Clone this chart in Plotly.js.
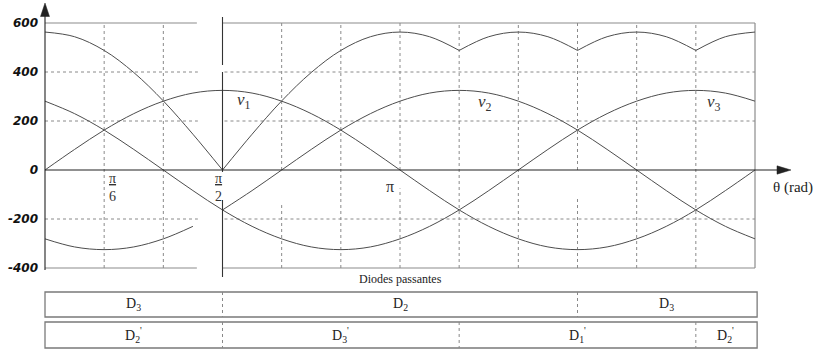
<!DOCTYPE html>
<html><head><meta charset="utf-8">
<script src="https://cdn.plot.ly/plotly-3.0.1.min.js"></script>
<style>html,body{margin:0;padding:0;background:#fff}#chart{width:815px;height:349px}</style>
</head><body><div id="chart"></div>
<script>
// ---- data (angle in degrees, voltages in V) ----
const thetaDeg = [0,15,30,45,60,75,90,105,120,135,150,165,180,195,210,225,240,255,270,285,300,315,330,345,360];
const v1 = [0,84,163,230,281,314,325,314,281,230,163,84,0,-84,-163,-230,-281,-314,-325,-314,-281,-230,-163,-84,0];
const v2 = [-281,-314,-325,-314,-281,-230,-163,-84,0,84,163,230,281,314,325,314,281,230,163,84,0,-84,-163,-230,-281];
const v3 = [281,230,163,84,0,-84,-163,-230,-281,-314,-325,-314,-281,-230,-163,-84,0,84,163,230,281,314,325,314,281];
const uc = [563,544,488,398,282,146,0,146,282,398,488,544,563,544,488,544,563,544,488,544,563,544,488,544,563];
const ucSegments = [[0,6],[6,14],[14,18],[18,22],[22,24]];   // index ranges between cusps
const v2Segments = [[0,5],[6,24]];                          // v2 is interrupted before pi/2
const yTickVals = [600,400,200,0,-200,-400];
const yTickText = ['600','400','200','0','-200','-400'];
const gridDeg = [30,60,120,150,180,210,240,270,300,330];
const gridY = [400,200,-200];
const curveNames = ['1','2','3'];
const curveLabelDeg = [101,223,339];
const curveLabelVal = [282,273,273];
const xFracDeg = [30,90];
const xFracDen = ['6','2'];
const topDiodeBounds = [0,90,270,360];
const topDiodeSub = ['3','2','3'];
const botDiodeBounds = [0,90,210,330,360];
const botDiodeSub = ['2','3','1','2'];

// ---- styles ----
const curveColor = '#4d4d4d';
const gridColor = '#8a8a8a';
const frameColor = '#8c8c8c';
const axisColor = '#222';
const serif = 'Liberation Serif, Times New Roman, serif';

const traces = [];
function seg(arr, a, b){ return arr.slice(a, b+1); }
[v1, v3].forEach(v => traces.push({x: thetaDeg, y: v, mode:'lines', line:{shape:'spline', color:curveColor, width:1}, hoverinfo:'skip'}));
v2Segments.forEach(([a,b]) => traces.push({x: seg(thetaDeg,a,b), y: seg(v2,a,b), mode:'lines', line:{shape:'spline', color:curveColor, width:1}, hoverinfo:'skip'}));
ucSegments.forEach(([a,b]) => traces.push({x: seg(thetaDeg,a,b), y: seg(uc,a,b), mode:'lines', line:{shape:'spline', color:curveColor, width:1}, hoverinfo:'skip'}));

const shapes = [];
const gapL = 77.5, gapR = 91;   // white gap in the grid before pi/2
gridY.forEach(y => {
  shapes.push({type:'line', xref:'x', yref:'y', x0:0, x1:gapL, y0:y, y1:y, line:{color:gridColor, width:1, dash:'dot'}, layer:'below'});
  shapes.push({type:'line', xref:'x', yref:'y', x0:gapR, x1:360, y0:y, y1:y, line:{color:gridColor, width:1, dash:'dot'}, layer:'below'});
});
const vGaps = {120:[[0,600],[-400,-143]], 180:[[0,600],[-102,-75],[-400,-110]], 270:[[0,600],[-400,-110]]};
gridDeg.forEach(d => {
  const segs = vGaps[d] || [[-400,600]];
  segs.forEach(([a,b]) => shapes.push({type:'line', xref:'x', yref:'y', x0:d, x1:d, y0:a, y1:b, line:{color:gridColor, width:1, dash:'dot'}, layer:'below'}));
});
[1, 0].forEach(py => {
  shapes.push({type:'line', xref:'x', yref:'paper', x0:0, x1:gapL-0.5, y0:py, y1:py, line:{color:frameColor, width:1.2}, layer:'below'});
  shapes.push({type:'line', xref:'x', yref:'paper', x0:90, x1:360, y0:py, y1:py, line:{color:frameColor, width:1.2}, layer:'below'});
});
shapes.push({type:'line', xref:'paper', yref:'paper', x0:1, x1:1, y0:0, y1:1, line:{color:frameColor, width:1.2}, layer:'below'});
[[1.0245,0.8286],[0.80,0.392],[0.2776,-0.0367]].forEach(([a,b]) =>
  shapes.push({type:'line', xref:'x', yref:'paper', x0:90, x1:90, y0:a, y1:b, line:{color:'#333', width:1.1}}));
shapes.push({type:'line', xref:'paper', yref:'y', x0:0, x1:1.041, y0:0, y1:0, line:{color:axisColor, width:1.1}});
shapes.push({type:'path', xref:'paper', yref:'y', path:'M 1.0507,0 L 1.0310,17 L 1.0310,-17 Z', fillcolor:axisColor, line:{color:axisColor, width:0.5}});
shapes.push({type:'line', xref:'paper', yref:'paper', x0:0, x1:0, y0:-0.008, y1:1.04, line:{color:axisColor, width:1.1}});
shapes.push({type:'path', xref:'paper', yref:'paper', path:'M 0,1.0816 L -0.0063,1.0265 L 0.0063,1.0265 Z', fillcolor:axisColor, line:{color:axisColor, width:0.5}});

const rowTop = [-0.098, -0.200], rowBot = [-0.2204, -0.3265];
[rowTop, rowBot].forEach(([a,b]) => shapes.push({type:'rect', xref:'paper', yref:'paper', x0:0, x1:1.003, y0:a, y1:b, line:{color:'#7a7a7a', width:1.3}}));
topDiodeBounds.slice(1,-1).forEach(d => shapes.push({type:'line', xref:'x', yref:'paper', x0:d, x1:d, y0:rowTop[0], y1:rowTop[1], line:{color:'#888', width:1, dash:'dot'}}));
botDiodeBounds.slice(1,-1).forEach(d => shapes.push({type:'line', xref:'x', yref:'paper', x0:d, x1:d, y0:rowBot[0], y1:rowBot[1], line:{color:'#888', width:1, dash:'dot'}}));

const annotations = [];
const txt = (o) => Object.assign({showarrow:false, xanchor:'center', yanchor:'middle', font:{family:serif, size:14, color:'#222'}}, o);
curveNames.forEach((n,i) => annotations.push(txt({xref:'x', yref:'y', x:curveLabelDeg[i], y:curveLabelVal[i], text:'<i>v</i><sub>'+n+'</sub>', font:{family:serif, size:17, color:'#333'}})));
const fracShift = [8, -4];
xFracDeg.forEach((d,i) => annotations.push(txt({xref:'x', yref:'y', x:d, y:-71, xshift:fracShift[i], text:'<u>π</u><br>'+xFracDen[i], font:{family:serif, size:14, color:'#333'}})));
annotations.push(txt({xref:'x', yref:'y', x:180, y:-68, xshift:-10, text:'π', font:{family:serif, size:16, color:'#333'}}));
annotations.push(txt({xref:'paper', yref:'y', x:1.0535, y:-72, text:'θ (rad)', font:{family:serif, size:15, color:'#222'}}));
annotations.push(txt({xref:'x', yref:'paper', x:180, y:-0.045, text:'Diodes passantes', font:{family:serif, size:12, color:'#222'}}));
topDiodeSub.forEach((s,i) => annotations.push(txt({xref:'x', yref:'paper', x:(topDiodeBounds[i]+topDiodeBounds[i+1])/2, y:-0.149, text:'D<sub>'+s+'</sub>'})));
botDiodeSub.forEach((s,i) => {
  const xc = (botDiodeBounds[i]+botDiodeBounds[i+1])/2;
  annotations.push(txt({xref:'x', yref:'paper', x:xc, y:-0.273, text:"D<sub>"+s+"</sub><sup>'</sup>"}));
});

const layout = {
  width:815, height:349, margin:{l:45, r:60, t:23, b:81, pad:0},
  paper_bgcolor:'#fff', plot_bgcolor:'#fff', showlegend:false,
  xaxis:{range:[0,360], showgrid:false, zeroline:false, showticklabels:false, showline:false, ticks:'', fixedrange:true},
  yaxis:{range:[-400,600], tickvals:yTickVals, ticktext:yTickText, showgrid:false, zeroline:false, showline:false, ticks:'',
         ticklabelstandoff:6, tickfont:{family:'DejaVu Sans, Verdana, sans-serif', size:12, weight:'bold', style:'italic', color:'#111'}, fixedrange:true},
  shapes, annotations
};
Plotly.newPlot('chart', traces, layout, {staticPlot:true, displayModeBar:false});
</script></body></html>
